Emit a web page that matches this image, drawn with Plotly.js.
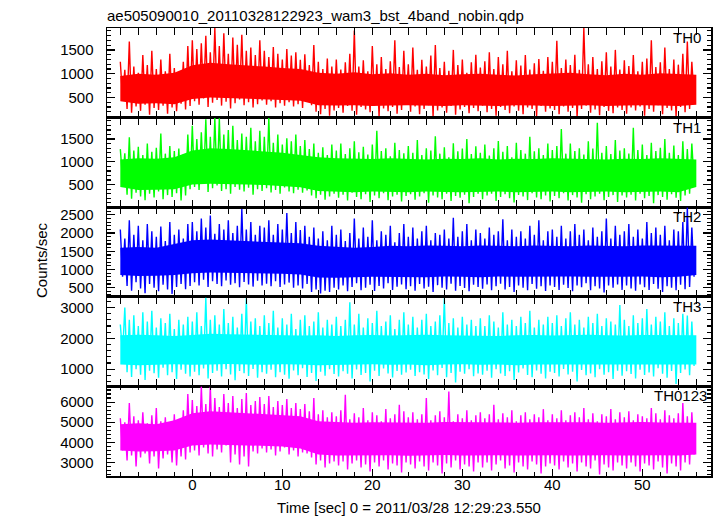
<!DOCTYPE html>
<html><head><meta charset="utf-8">
<script src="https://cdn.plot.ly/plotly-3.0.1.min.js"></script>
<style>html,body{margin:0;padding:0;background:#fff}#chart{width:717px;height:516px}</style>
</head><body><div id="chart"></div>
<script>
// time bins: start -8 s, 0.5 s wide; per bin the max (hi) and min (lo) count rate
const tStart = -8;
const binWidth = 0.5;
// dense core of each light curve, read every 2 s from -8 to 56 s
const coreStep = 2;
const bandNames = ['TH0', 'TH1', 'TH2', 'TH3', 'TH0123'];
const bandColors = ['#ff0000', '#00ff00', '#0000ff', '#00ffff', '#ff00ff'];

const th0Hi = [1250,1080,1675,1150,1020,1390,1180,1480,1100,1300,1050,1420,1120,990,1250,1580,
 1700,1520,1640,1795,1450,1960,1580,1850,1420,1760,1610,1820,1480,1550,1390,1700,
 1480,1350,1560,1420,1300,1520,1380,1450,1290,1410,1180,1600,1250,1100,1320,1150,
 1300,1090,1240,1420,1907,1150,1280,1050,1580,1200,1350,1100,1260,1700,1140,1480,
 1200,1550,1080,1290,1150,1380,1600,1120,1250,1060,1500,1180,1300,1020,1240,1400,
 1130,1260,1450,1100,1350,1200,1480,1050,1280,1170,1390,1090,1220,1310,1060,1350,
 1250,1690,1120,1300,1180,1400,1080,1960,1200,1350,1100,1260,1450,1150,1500,1090,
 1280,1160,1390,1050,1250,1320,1700,1140,1240,1550,1100,1300,1190,1420,1675,1250];
const th0Lo = [480,260,180,310,220,350,140,280,240,330,160,290,210,370,250,320,
 420,350,480,300,390,450,330,410,270,380,460,340,400,290,360,440,
 350,420,290,380,330,400,310,360,280,410,340,200,150,260,120,230,
 280,180,320,220,140,300,250,190,330,110,270,210,300,160,240,350,
 200,310,150,260,340,100,230,290,180,320,140,250,300,170,280,210,
 330,190,260,120,300,240,170,310,220,150,290,260,110,320,200,270,
 240,150,310,200,280,90,260,330,180,250,130,300,220,170,290,240,
 160,290,230,310,120,260,200,340,150,280,230,100,300,190,260,480];
const th0CoreHi = [950,1000,980,1020,1180,1230,1200,1180,1150,1120,1100,1020,1000,1030,990,1010,980,1000,970,990,1000,980,960,990,1000,1020,990,970,1000,980,1010,990,980];
const th0CoreLo = [420,370,380,360,470,500,480,470,460,450,430,340,330,340,320,330,340,330,320,340,330,320,340,330,320,330,340,320,330,340,330,320,350];

const th1Hi = [1280,1190,1540,1250,1330,1150,1400,1220,1310,1620,1180,1350,1240,1290,1160,1600,
 1790,1500,1650,1935,1550,1970,1960,1600,1700,1790,1480,1620,1550,1750,1450,1680,
 1550,1970,1420,1600,1380,1520,1450,1600,1350,1480,1280,1400,1200,1320,1150,1380,
 1250,1400,1170,1300,1450,1210,1330,1160,1380,1680,1240,1300,1120,1420,1260,1190,
 1350,1200,1480,1150,1300,1250,1560,1180,1320,1100,1410,1230,1290,1500,1170,1340,
 1200,1380,1140,1300,1460,1220,1350,1100,1420,1260,1180,1550,1230,1300,1150,1400,
 1260,1350,1720,1180,1400,1240,1300,1160,1450,1290,1860,1200,1350,1170,1480,1250,
 1300,1180,1750,1260,1380,1150,1420,1240,1310,1500,1200,1360,1150,1450,1280,1400];
const th1Lo = [600,280,190,320,240,160,300,220,350,180,270,230,310,150,260,400,
 450,380,520,340,420,480,360,400,300,450,390,350,430,280,400,360,
 420,330,380,300,440,350,310,390,320,370,260,200,280,170,240,300,
 210,280,150,320,230,180,290,120,260,200,310,160,240,280,130,250,
 290,170,240,310,100,260,220,180,300,140,250,210,280,90,230,300,
 180,260,300,140,230,290,200,110,270,240,160,310,220,180,260,130,
 250,200,310,150,270,220,100,290,180,240,300,160,230,270,120,260,
 220,280,150,300,200,250,90,270,230,170,290,210,140,260,300,550];
const th1CoreHi = [1050,1080,1070,1100,1250,1300,1280,1260,1230,1200,1150,1100,1080,1070,1060,1080,1070,1050,1070,1060,1080,1050,1070,1060,1080,1070,1060,1050,1070,1060,1080,1070,1050];
const th1CoreLo = [450,380,390,400,500,520,510,500,490,470,440,360,340,330,350,340,330,350,340,330,340,350,330,340,350,330,340,350,330,340,350,330,450];

const th2Hi = [2100,1850,2350,1950,2200,1800,2250,2050,1900,2180,1780,2300,1950,2100,1850,2250,
 2300,2050,2400,2150,2480,1980,2250,2100,2350,2000,2200,2660,2100,2300,1950,2200,
 2150,2350,1950,2250,2100,2550,2000,2300,2080,2200,1900,2150,1850,2050,1800,2200,
 1950,2100,1780,2000,2400,1850,2150,1900,2350,1800,2050,1950,2200,1750,2000,2250,
 1900,2150,1850,2050,2200,1800,2000,1950,2100,1850,2420,1900,2050,2250,1800,2100,
 2000,1850,2150,1950,2050,2380,1800,2100,1900,2050,1850,2200,1950,2350,1800,2050,
 2100,1900,2200,1850,2050,2250,1950,2100,1800,2150,1900,2050,2400,1850,2200,1950,
 2050,2250,1900,2100,1850,2300,2000,2150,1950,2200,1800,2100,2050,2300,2700,2150];
const th2Lo = [800,550,420,650,480,350,600,500,400,580,450,330,520,600,460,550,
 650,560,720,520,680,600,540,700,580,620,510,660,590,530,690,560,
 610,540,680,520,590,640,500,560,480,600,380,450,340,420,380,500,
 450,560,400,520,620,430,500,580,410,550,480,620,440,530,590,460,
 540,420,600,480,530,380,570,500,450,610,420,550,490,400,580,520,
 470,590,430,540,610,450,520,380,560,500,430,600,470,540,410,560,
 520,440,580,490,400,560,510,620,430,540,480,370,560,500,590,440,
 560,480,420,590,510,440,600,470,380,540,500,430,580,460,520,800];
const th2CoreHi = [1600,1620,1600,1700,1800,1820,1800,1780,1760,1740,1720,1650,1620,1600,1620,1650,1640,1660,1650,1640,1660,1650,1640,1660,1650,1640,1660,1650,1640,1660,1650,1660,1650];
const th2CoreLo = [850,820,830,850,900,920,910,900,890,880,860,780,770,790,800,810,800,790,810,800,790,810,800,790,800,810,800,790,800,810,790,800,850];

const th3Hi = [2450,3000,2600,2750,2400,2850,2550,2900,2350,2650,2500,2800,2300,2600,2450,2700,
 2550,2850,2400,3320,2600,2750,2450,2950,2500,2700,2350,2800,3300,2550,2650,2400,
 2750,2500,2900,2350,2650,2450,2800,2300,2600,2750,2400,2550,2850,2350,2600,2450,
 2700,2400,2600,3170,2450,2800,2350,2650,2500,2900,2400,2550,2750,2300,2600,2850,
 2450,2700,2350,2600,2800,2400,2550,2750,3300,2500,2650,2350,2700,2450,2600,2400,
 2650,2400,2750,2550,2350,2850,2450,2600,2400,2700,2500,2900,2350,2600,2450,2700,
 2500,2750,2400,2650,2850,2450,2600,2350,2700,2500,2800,2400,2650,2550,2450,3085,
 2600,2400,2750,2500,2650,2950,2450,2700,2550,2850,2400,2650,2500,2800,2745,2550];
const th3Lo = [1500,900,750,1000,820,650,950,870,720,1050,800,900,680,980,850,760,
 920,800,1020,700,880,950,760,1000,830,640,940,870,780,1010,720,900,
 850,980,740,900,820,690,960,800,1030,750,880,620,920,790,1000,840,
 760,930,850,700,990,810,880,600,950,780,1020,860,730,940,820,890,
 980,780,900,830,680,960,800,1040,740,880,570,920,850,1000,770,860,
 820,950,720,1000,860,780,930,650,890,1020,810,740,960,850,700,920,
 880,760,1010,830,920,600,970,800,860,740,1000,820,900,680,950,790,
 930,840,700,980,810,890,760,1030,850,720,940,520,880,990,800,1100];
const th3CoreHi = [2100,2120,2100,2080,2110,2150,2130,2120,2100,2110,2090,2100,2080,2100,2110,2090,2100,2120,2100,2090,2100,2080,2100,2110,2090,2100,2120,2100,2090,2110,2100,2090,2100];
const th3CoreLo = [1150,1130,1150,1160,1140,1150,1170,1150,1140,1160,1150,1130,1140,1150,1160,1140,1150,1130,1150,1160,1140,1150,1130,1150,1160,1140,1150,1140,1160,1150,1140,1150,1150];

const th0123Hi = [5200,5000,5950,5300,5100,5500,4950,5350,5700,5050,5250,4900,5400,5150,5600,6400,
 6100,5800,6780,5900,6780,6200,5750,6400,5950,6300,5700,6150,6450,5850,6050,6250,
 5900,6300,5750,6050,5850,6150,5700,5950,5650,5900,5550,6200,5400,5600,5250,5500,
 5300,5600,6370,5150,5450,5250,5700,5100,5500,5350,5050,5650,5200,5400,5870,5550,
 5250,5500,5150,5400,6200,5100,5350,5550,5250,6530,5050,5400,5200,5600,5100,5350,
 5500,5200,5400,5870,5150,5450,5250,5600,5050,5350,5500,5150,5400,5250,5650,5100,
 5400,5200,5600,5100,5350,5500,5250,5700,5150,5450,5050,5400,5300,5650,5150,5500,
 5250,5550,5100,5400,5300,5200,5700,5450,5150,5600,5350,5200,5450,5950,5300,5500];
const th0123Lo = [3600,3100,3350,2800,3250,3450,2950,3300,2700,3200,3400,3000,2850,3300,3150,3500,
 3600,3350,3750,3450,3300,3650,3500,3850,3000,3400,2900,3300,2800,3550,3450,3700,
 3500,3650,3350,3550,3750,3400,3600,3300,3500,3450,3250,2900,3100,2750,2950,3050,
 2850,3050,2650,2950,3100,2750,2900,2550,3000,2800,3100,2650,2950,2850,2500,3000,
 2900,2700,3050,2800,2600,3000,2850,2450,2950,2750,3100,2650,2900,2800,2550,3000,
 2750,3000,2600,2900,3100,2700,2850,2500,3000,2800,2650,3050,2900,2450,2800,2950,
 2850,2650,3050,2750,2950,2550,3000,2800,2700,3100,2400,2900,2750,2600,3000,2850,
 2700,3000,2800,2550,2950,2850,2650,3050,2750,2450,2950,2800,2600,3000,2900,3400];
const th0123CoreHi = [4900,4950,4900,5100,5450,5550,5500,5450,5400,5350,5300,5050,5000,4980,5000,4990,5000,4980,5010,5000,4990,5000,4980,5000,5010,4990,5000,4980,5000,5010,4990,5000,4980];
const th0123CoreLo = [3600,3550,3560,3600,3850,3900,3880,3850,3820,3800,3700,3400,3350,3370,3350,3360,3340,3350,3370,3350,3340,3360,3350,3340,3360,3350,3340,3360,3350,3340,3360,3350,3400];

const hiSeries = [th0Hi, th1Hi, th2Hi, th3Hi, th0123Hi];
const loSeries = [th0Lo, th1Lo, th2Lo, th3Lo, th0123Lo];
const coreHiSeries = [th0CoreHi, th1CoreHi, th2CoreHi, th3CoreHi, th0123CoreHi];
const coreLoSeries = [th0CoreLo, th1CoreLo, th2CoreLo, th3CoreLo, th0123CoreLo];
const yRanges = [[78, 1960], [4, 1972], [250, 2710], [440, 3350], [2330, 6780]];
const yDticks = [500, 500, 500, 1000, 1000];
const yMinor = [100, 100, 100, 200, 200];
const xTickVals = [0, 10, 20, 30, 40, 50];
const labelRightPx = [703, 703, 703, 703, 709];

const FONT = 'Liberation Sans, Arial, Helvetica, sans-serif';
const traces = [];
const layout = {
  width: 717, height: 516,
  margin: {l: 107, r: 6, t: 28, b: 40},
  paper_bgcolor: '#fff', plot_bgcolor: '#fff',
  showlegend: false, hovermode: false,
  font: {family: FONT, size: 15, color: '#000'},
  title: {text: 'ae505090010_20110328122923_wam3_bst_4band_nobin.qdp',
    x: 107 / 717, xref: 'container', xanchor: 'left',
    y: 1 - 16 / 516, yref: 'container', yanchor: 'middle',
    font: {family: FONT, size: 15, color: '#000'}},
  xaxis: {
    range: [-9.48, 57.63], anchor: 'y5', tickvals: xTickVals,
    ticks: 'inside', ticklen: 7, tickwidth: 1.2, tickcolor: '#000',
    minor: {dtick: 2, tick0: 0, ticks: 'inside', ticklen: 4, tickcolor: '#000', showgrid: false},
    showline: true, linecolor: '#000', linewidth: 1.5, mirror: 'allticks',
    showgrid: false, zeroline: false, fixedrange: true,
    tickfont: {family: FONT, size: 15, color: '#000'}, ticklabelstandoff: -6,
    title: {text: 'Time [sec] 0 = 2011/03/28 12:29:23.550', standoff: 11,
      font: {family: FONT, size: 15, color: '#000'}}
  },
  annotations: []
};

const n = 5;
for (let p = 0; p < n; p++) {
  const hi = hiSeries[p], lo = loSeries[p];
  const cHi = coreHiSeries[p], cLo = coreLoSeries[p];
  const yName = p === 0 ? 'y' : 'y' + (p + 1);
  // dense core band
  const cx = [], cy = [];
  for (let i = 0; i < cHi.length; i++) { cx.push(tStart + i * coreStep); cy.push(cHi[i]); }
  for (let i = cLo.length - 1; i >= 0; i--) { cx.push(tStart + i * coreStep); cy.push(cLo[i]); }
  traces.push({x: cx, y: cy, type: 'scatter', mode: 'lines', fill: 'toself',
    fillcolor: bandColors[p], line: {width: 0, color: bandColors[p]}, xaxis: 'x', yaxis: yName});
  // spiky max/min excursions
  const xs = [], ys = [];
  for (let i = 0; i < hi.length; i++) {
    const t = tStart + i * binWidth;
    xs.push(t); ys.push(hi[i]);
    xs.push(t + binWidth / 2); ys.push(lo[i]);
  }
  traces.push({x: xs, y: ys, type: 'scatter', mode: 'lines', xaxis: 'x', yaxis: yName,
    line: {color: bandColors[p], width: 1.4}});
  const top = 1 - p / n, bottom = 1 - (p + 1) / n;
  layout['yaxis' + (p === 0 ? '' : p + 1)] = {
    domain: [bottom, top], range: yRanges[p], anchor: 'x',
    dtick: yDticks[p], tick0: 0,
    ticks: 'inside', ticklen: 8, tickwidth: 1.2, tickcolor: '#000',
    minor: {dtick: yMinor[p], tick0: 0, ticks: 'inside', ticklen: 4, tickcolor: '#000', showgrid: false},
    showline: true, linecolor: '#000', linewidth: 1.5, mirror: 'allticks',
    showgrid: false, zeroline: false, fixedrange: true,
    tickfont: {family: FONT, size: 15, color: '#000'}, ticklabelstandoff: 9
  };
  layout.annotations.push({text: bandNames[p], xref: 'paper', yref: yName + ' domain',
    x: (labelRightPx[p] - 107) / 604, xanchor: 'right', y: 1, yanchor: 'top', yshift: 1,
    showarrow: false, font: {family: FONT, size: 15, color: '#000'}});
}
layout.annotations.push({text: 'Counts/sec', textangle: -90, xref: 'paper', yref: 'paper',
  x: (41 - 107) / 604, xanchor: 'center', y: 1 - (260 - 28) / 448, yanchor: 'middle',
  showarrow: false, font: {family: FONT, size: 15, color: '#000'}});

Plotly.newPlot('chart', traces, layout, {staticPlot: true, displayModeBar: false});
</script></body></html>
